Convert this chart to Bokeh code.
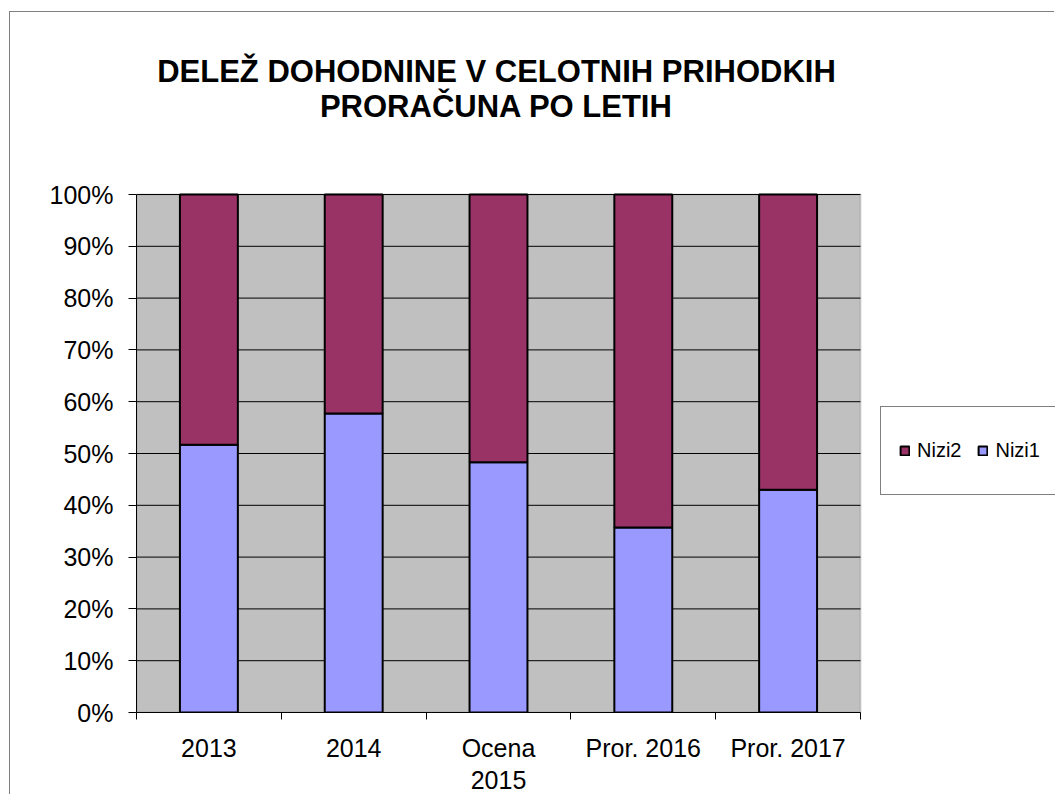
from bokeh.plotting import figure
from bokeh.models import (ColumnDataSource, FixedTicker, NumeralTickFormatter, Legend,
                          LegendItem, Range1d, Label, BoxAnnotation)
from bokeh.embed import file_html
from bokeh.resources import INLINE

# ---- data ----
categories = ["2013", "2014", "Ocena\n2015", "Pror. 2016", "Pror. 2017"]
nizi1 = [0.517, 0.577, 0.483, 0.357, 0.430]
nizi2 = [0.483, 0.423, 0.517, 0.643, 0.570]
y_ticks = [0.0, 0.1, 0.2, 0.3, 0.4, 0.5, 0.6, 0.7, 0.8, 0.9, 1.0]
title_lines = ["DELEŽ DOHODNINE V CELOTNIH PRIHODKIH", "PRORAČUNA PO LETIH"]

FONT = "Liberation Sans"

# ---- layout constants (pixels) ----
W, H = 1045, 792
LEFT, BOTTOM = 126, 92
PLOT_W, PLOT_H = 724, 518          # grey plot area
FRAME_W, FRAME_H = W - LEFT, H - BOTTOM
n = len(categories)
x_end = n * FRAME_W / PLOT_W
y_end = FRAME_H / PLOT_H

xpos = [i + 0.5 for i in range(n)]
src = ColumnDataSource(dict(x=xpos, nizi1=nizi1, nizi2=nizi2))

p = figure(width=W, height=H, output_backend="svg", toolbar_location=None,
           x_range=Range1d(0, x_end), y_range=Range1d(0, y_end),
           min_border_left=LEFT, min_border_right=0, min_border_top=0,
           min_border_bottom=BOTTOM)
p.styles = {"border-left": "1px solid #808080", "border-top": "1px solid #808080",
            "margin-left": "9px", "margin-top": "11px", "margin-bottom": "-40px"}

p.background_fill_color = "white"
p.border_fill_color = "white"
p.outline_line_color = None
p.grid.grid_line_color = None

# grey plot area with grey outline
p.add_layout(BoxAnnotation(left=0, right=n, bottom=0, top=1, fill_color="#C0C0C0",
                           fill_alpha=1, line_color="#808080", line_width=2,
                           level="underlay"))

# horizontal gridlines limited to plot area
p.segment(x0=[0] * len(y_ticks), x1=[n] * len(y_ticks), y0=y_ticks, y1=y_ticks,
          line_color="black", line_width=1)

renderers = p.vbar_stack(["nizi1", "nizi2"], x="x", width=0.4, source=src,
                         fill_color=["#9999FF", "#993366"], line_color="black",
                         line_width=2)
r1, r2 = renderers

# y axis
p.yaxis.bounds = (0, 1)
p.yaxis.ticker = FixedTicker(ticks=y_ticks)
p.yaxis.formatter = NumeralTickFormatter(format="0%")
p.yaxis.major_label_text_font = FONT
p.yaxis.major_label_text_font_size = "25px"
p.yaxis.major_label_text_color = "black"
p.yaxis.major_tick_out = 8
p.yaxis.major_tick_in = 0
p.yaxis.minor_tick_line_color = None
p.yaxis.major_label_standoff = 15
p.yaxis.axis_line_color = "black"
p.yaxis.major_tick_line_color = "black"

# x axis
p.xaxis.bounds = (0, n)
p.xaxis.ticker = FixedTicker(ticks=xpos, minor_ticks=list(range(n + 1)))
p.xaxis.major_label_overrides = {x: c for x, c in zip(xpos, categories)}
p.xaxis.major_tick_line_color = None
p.xaxis.major_tick_out = 0
p.xaxis.major_tick_in = 0
p.xaxis.minor_tick_line_color = "black"
p.xaxis.minor_tick_out = 7
p.xaxis.minor_tick_in = 0
p.xaxis.major_label_text_font = FONT
p.xaxis.major_label_text_font_size = "25px"
p.xaxis.major_label_text_color = "black"
p.xaxis.major_label_text_line_height = 1.15
p.xaxis.major_label_standoff = 14
p.xaxis.axis_line_color = "black"

# title (two lines)
for line, yv in zip(title_lines, [1.2375, 1.1700]):
    p.add_layout(Label(x=2.486, y=yv, text=line, text_font=FONT,
                       text_font_size="31px", text_font_style="bold",
                       text_align="center", text_baseline="alphabetic",
                       text_color="black"))

legend = Legend(items=[LegendItem(label="Nizi2", renderers=[r2]),
                       LegendItem(label="Nizi1", renderers=[r1])],
                orientation="horizontal", location=(744, 217))
legend.label_text_font = FONT
legend.label_text_font_size = "20px"
legend.label_text_color = "black"
legend.glyph_width = 11
legend.glyph_height = 11
legend.label_height = 51
legend.padding = 18
legend.spacing = 16
legend.label_standoff = 7
legend.margin = 0
legend.border_line_color = "black"
legend.border_line_width = 1
legend.background_fill_color = "white"
legend.background_fill_alpha = 1
p.add_layout(legend)

open("out.html", "w").write(file_html(p, INLINE))
